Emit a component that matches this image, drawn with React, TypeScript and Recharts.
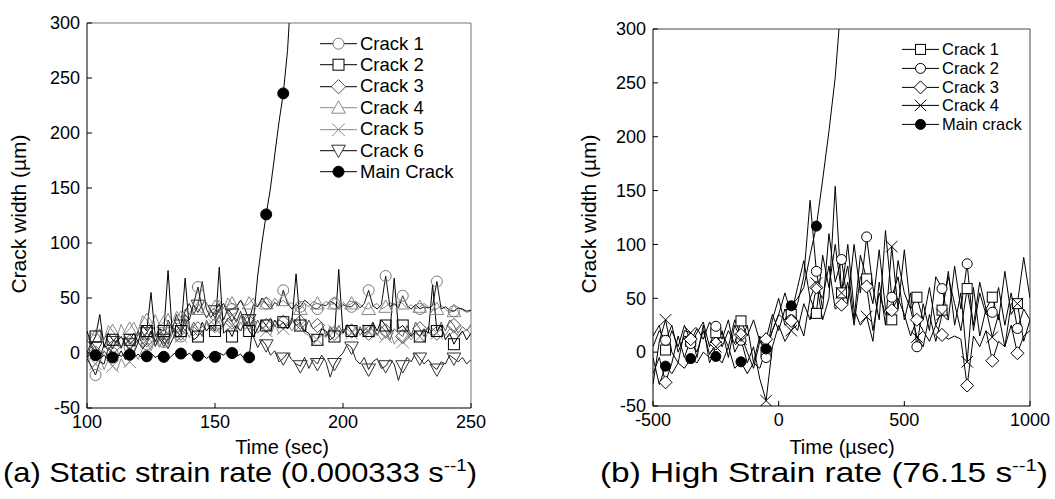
import React from "react";
import { ComposedChart, Line, XAxis, YAxis, ReferenceLine, Legend } from "recharts";

const FONT = "'Liberation Sans', Arial, sans-serif";

// (a) static test: one sample every 5/3 s starting at 100 s, marker on every 4th sample
const STATIC_START = 100;
const STATIC_STEP = 5 / 3;
const staticTicksX = [100, 150, 200, 250];
const ticksY = [-50, 0, 50, 100, 150, 200, 250, 300];

const staticCrack1 = [
  -5, -12, -20, -8, -10, 5, 0, -5, 2, -6, 5, 0, 10, 4, 8, 20,
  6, 15, 10, 4, 12, 20, 15, 35, 30, 45, 60, 40, 32, 38, 35, 40,
  45, 38, 40, 42, 48, 40, 30, 44, 42, 50, 45, 40, 46, 43, 57, 45,
  40, 44, 42, 48, 45, 41, 40, 44, 43, 47, 45, 40, 44, 42, 42, 46,
  41, 45, 57, 43, 40, 44, 70, 42, 45, 41, 52, 43, 40, 44, 40, 42,
  41, 43, 65, 40, 42, 39, 38, 41, 40, 38, 39,
];
const staticCrack2 = [
  20, 8, 15, 35, 5, 18, 12, 10, 15, 8, 12, 18, 10, 25, 20, 55,
  15, 22, 20, 75, 18, 25, 20, 68, 22, 12, 15, 28, 20, 25, 20, 78,
  18, 22, 15, 25, 20, 28, 20, 15, 22, 30, 25, 20, 30, 24, 28, 22,
  28, 72, 25, 20, 18, 10, 12, 22, 20, 12, 15, 76, 18, 25, 20, 15,
  22, 18, 20, 28, 20, 30, 25, 18, 68, 22, 25, 20, 15, 20, 15, 22,
  18, 62, 20, 25, 12, 18, 8, 15, 20, 12, 18,
];
const staticCrack3 = [
  -5, 8, 0, -8, 2, -4, 5, 12, 4, 15, 10, 6, 18, 8, 12, 20,
  10, 22, 15, 8, 25, 14, 18, 30, 20, 28, 22, 15, 30, 22, 25, 35,
  24, 32, 28, 22, 34, 25, 28, 20, 30, 22, 25, 32, 24, 30, 28, 22,
  32, 25, 28, 20, 30, 22, 25, 28, 15, 24, 18, 25, 18, 26, 20, 14,
  24, 15, 18, 26, 16, 24, 20, 12, 22, 18, 15, 25, 16, 28, 22, 15,
  24, 16, 18, 28, 20, 30, 25, 18, 24, 20, 26,
];
const staticCrack4 = [
  10, 18, 15, 22, 12, 25, 20, 15, 26, 18, 22, 28, 20, 34, 30, 24,
  35, 25, 28, 36, 28, 38, 32, 40, 35, 44, 40, 36, 46, 38, 42, 48,
  40, 50, 45, 42, 48, 43, 45, 50, 42, 47, 45, 43, 50, 45, 48, 44,
  46, 42, 40, 45, 42, 47, 45, 43, 47, 44, 45, 42, 46, 43, 45, 47,
  44, 41, 40, 43, 45, 40, 42, 46, 43, 47, 45, 41, 44, 40, 42, 45,
  42, 39, 40, 43, 40, 37, 38, 41, 39, 37, 38,
];
const staticCrack5 = [
  0, -14, -10, -4, -15, -6, -12, -16, -5, -12, -8, 0, -6, 4, 10, 2,
  12, 5, 15, 8, 18, 10, 15, 22, 14, 24, 20, 16, 28, 20, 25, 18,
  26, 30, 25, 20, 28, 22, 25, 30, 18, 24, 20, 16, 26, 18, 22, 28,
  20, 26, 25, 18, 16, 8, 12, 18, 14, 22, 20, 16, 22, 15, 18, 24,
  16, 22, 20, 14, 18, 12, 15, 20, 8, 14, 10, 16, 12, 18, 15, 10,
  20, 14, 18, 22, 16, 22, 20, 15, 18, 22, 16,
];
const staticCrack6 = [
  0, 10, 5, -5, 8, 2, 10, 15, 5, 14, 8, 12, 20, 12, 18, 25,
  10, 18, 12, 30, 22, 35, 25, 38, 45, 35, 43, 65, 40, 32, 38, 45,
  30, 40, 35, 28, 38, 25, 30, 15, 5, 12, 7, -2, 2, -8, -5, 0,
  -6, -10, -12, -4, -14, -6, -10, -2, -8, -22, -10, -4, 0, 8, 5, -6,
  -10, -4, -15, -8, -5, -14, -12, -6, -10, -25, -12, -4, -8, 0, -5, -10,
  -6, -12, -15, -8, -10, -2, -5, -8, -4, -10, -6,
];
const staticMain = [
  -4, 0, -2, -5, -2, -6, -4, -1, -3, 0, -1.5, -4, -1, -5, -3, 0,
  -4, -2, -3.5, -6, -2, 1, -0.5, -3, 0, -4, -2.5, -1, -5, -2, -3.5, 0,
  -2, 2, 0, -3, -1, -6, -4, 30, 70, 100, 126, 150, 180, 210, 236, 275,
  340,
];

// (b) high strain rate test: one sample every 25 µs starting at -500 µs
const DYN_START = -500;
const DYN_STEP = 25;
const dynTicksX = [-500, 0, 500, 1000];

const dynCrack1 = [
  15, 25, 2, 20, 5, 25, 10, 22, 12, 28, 18, 5, 20, 8, 29, 15,
  30, 10, 0, 20, 35, 55, 35, 60, 85, 50, 36, 90, 60, 100, 55, 80,
  30, 90, 68, 45, 95, 40, 30, 85, 55, 40, 51, 30, 60, 25, 39, 70,
  45, 20, 59, 25, 65, 40, 51, 30, 75, 35, 45, 88, 50,
];
const dynCrack2 = [
  5, 20, 11, 25, 0, 15, 8, 18, 28, 5, 24, 12, 30, 0, 11, 25,
  -10, 15, -5, 30, 50, 25, 30, 45, 70, 141, 75, 40, 110, 65, 86, 45,
  100, 55, 107, 60, 30, 113, 51, 70, 30, 55, 5, 45, 20, 70, 59, 30,
  80, 40, 82, 20, 55, 35, 37, 60, 25, 55, 22, 40, 30,
];
const dynCrack3 = [
  -20, -5, -28, -10, 15, -5, 12, 0, 20, -2, 8, 18, 5, 30, 16, 0,
  -15, 10, 12, 35, 20, 40, 29, 20, 45, 30, 60, 50, 80, 40, 44, 65,
  25, 70, 61, 20, 55, 35, 39, 50, 35, 15, 30, 20, 10, 25, 16, 12,
  15, 12, -31, 15, 5, 20, -8, 10, 5, 25, -1, 15, 20,
];
const dynCrack4 = [
  -30, 10, 30, 0, -10, 20, 18, -5, 25, -10, 5, 20, -5, 25, 12, -10,
  5, -25, -45, 5, 25, 10, 20, 30, 15, 50, 64, 30, 50, 154, 55, 100,
  40, 25, 33, 10, 65, 25, 98, 40, 95, 40, 14, 5, 35, 10, 35, 75,
  25, 55, -9, 60, 15, 40, 14, 35, 5, 45, 45, 10, 30,
];
const dynMain = [
  -5, -30, -13, -20, -10, -15, -6, -10, 0, -5, -4, -10, 5, -15, -9, -20,
  -10, -15, 3, 20, 35, 30, 43, 50, 60, 90, 117, 160, 205, 255, 330,
];

const toPoints = (vals: number[], start: number, step: number) =>
  vals.map((v, i) => ({ t: start + i * step, v }));

type Shape = "circle" | "square" | "diamond" | "triangle" | "down" | "cross" | "disc";

function Marker({ shape, cx, cy, r, stroke, fill }: { shape: Shape; cx: number; cy: number; r: number; stroke: string; fill: string }) {
  const common = { stroke, fill, strokeWidth: 1 };
  switch (shape) {
    case "circle":
      return <circle cx={cx} cy={cy} r={r} {...common} />;
    case "disc":
      return <circle cx={cx} cy={cy} r={r} fill={stroke} stroke={stroke} />;
    case "square":
      return <rect x={cx - r} y={cy - r} width={2 * r} height={2 * r} {...common} />;
    case "diamond": {
      const d = r * 1.3;
      return <polygon points={`${cx},${cy - d} ${cx + d},${cy} ${cx},${cy + d} ${cx - d},${cy}`} {...common} />;
    }
    case "triangle": {
      const d = r * 1.25;
      return <polygon points={`${cx},${cy - d} ${cx + d},${cy + d * 0.8} ${cx - d},${cy + d * 0.8}`} {...common} />;
    }
    case "down": {
      const d = r * 1.25;
      return <polygon points={`${cx},${cy + d} ${cx + d},${cy - d * 0.8} ${cx - d},${cy - d * 0.8}`} {...common} />;
    }
    case "cross": {
      const d = r * 1.15;
      return (
        <g stroke={stroke} strokeWidth={1}>
          <line x1={cx - d} y1={cy - d} x2={cx + d} y2={cy + d} />
          <line x1={cx - d} y1={cy + d} x2={cx + d} y2={cy - d} />
        </g>
      );
    }
  }
  return null;
}

type Series = { name: string; vals: number[]; shape: Shape; line: string; mark: string; maxT: number };

const staticSeries: Series[] = [
  { name: "Crack 1", vals: staticCrack1, shape: "circle", line: "#111", mark: "#777", maxT: 246 },
  { name: "Crack 2", vals: staticCrack2, shape: "square", line: "#000", mark: "#000", maxT: 246 },
  { name: "Crack 3", vals: staticCrack3, shape: "diamond", line: "#555", mark: "#555", maxT: 246 },
  { name: "Crack 4", vals: staticCrack4, shape: "triangle", line: "#888", mark: "#888", maxT: 246 },
  { name: "Crack 5", vals: staticCrack5, shape: "cross", line: "#888", mark: "#888", maxT: 246 },
  { name: "Crack 6", vals: staticCrack6, shape: "down", line: "#222", mark: "#333", maxT: 246 },
  { name: "Main Crack", vals: staticMain, shape: "disc", line: "#000", mark: "#000", maxT: 178 },
];
const staticDrawOrder = [3, 4, 2, 0, 5, 1, 6];

const dynSeries: Series[] = [
  { name: "Crack 1", vals: dynCrack1, shape: "square", line: "#000", mark: "#000", maxT: 960 },
  { name: "Crack 2", vals: dynCrack2, shape: "circle", line: "#000", mark: "#000", maxT: 960 },
  { name: "Crack 3", vals: dynCrack3, shape: "diamond", line: "#000", mark: "#000", maxT: 960 },
  { name: "Crack 4", vals: dynCrack4, shape: "cross", line: "#000", mark: "#000", maxT: 960 },
  { name: "Main crack", vals: dynMain, shape: "disc", line: "#000", mark: "#000", maxT: 160 },
];

function LegendBox({ items, fontSize, rowH, iconW, r }: { items: Series[]; fontSize: number; rowH: number; iconW: number; r: number }) {
  return (
    <div style={{ fontFamily: FONT, fontSize, color: "#000" }}>
      {items.map((s) => (
        <div key={s.name} style={{ display: "flex", alignItems: "center", height: rowH, whiteSpace: "nowrap" }}>
          <svg width={iconW} height={rowH} style={{ display: "block" }}>
            <line x1={0} x2={iconW} y1={rowH / 2} y2={rowH / 2} stroke={s.line === "#888" ? "#888" : "#000"} />
            <Marker shape={s.shape} cx={iconW / 2} cy={rowH / 2} r={r} stroke={s.mark} fill="#fff" />
          </svg>
          <span style={{ marginLeft: 3 }}>{s.name}</span>
        </div>
      ))}
    </div>
  );
}

function BottomTick(props: any) {
  const { x, y, payload, fs } = props;
  return (
    <g>
      <line x1={x} x2={x} y1={y} y2={y - 5} stroke="#000" />
      <text x={x} y={y + 5} dy="0.85em" textAnchor="middle" fontSize={fs} fontFamily={FONT} fill="#000">
        {payload.value}
      </text>
    </g>
  );
}

function LeftTick(props: any) {
  const { x, y, payload, fs } = props;
  return (
    <g>
      <line x1={x} x2={x + 5} y1={y} y2={y} stroke="#000" />
      <text x={x - 7} y={y} dy="0.35em" textAnchor="end" fontSize={fs} fontFamily={FONT} fill="#000">
        {payload.value}
      </text>
    </g>
  );
}

function Panel({ series, order, start, step, domainX, ticksX, width, margin, xHeight, legendPos, legendFont, legendRow, r, markFill, frame }: any) {
  return (
    <ComposedChart width={width} height={460} margin={margin}>
      <XAxis
        type="number"
        dataKey="t"
        domain={domainX}
        ticks={ticksX}
        interval={0}
        allowDataOverflow
        height={xHeight}
        tickSize={0}
        tickMargin={0}
        stroke="#000"
        tick={(p: any) => <BottomTick {...p} fs={18} />}
      />
      <YAxis
        type="number"
        domain={[-50, 300]}
        ticks={ticksY}
        interval={0}
        allowDataOverflow
        width={60}
        tickSize={0}
        tickMargin={0}
        stroke="#000"
        tick={(p: any) => <LeftTick {...p} fs={18} />}
      />
      <ReferenceLine y={300} stroke={frame} />
      <ReferenceLine x={domainX[1]} stroke={frame} />
      {order.map((idx: number) => {
        const s: Series = series[idx];
        return (
          <Line
            key={s.name}
            data={toPoints(s.vals, start, step)}
            dataKey="v"
            name={s.name}
            type="linear"
            stroke={s.line}
            strokeWidth={1}
            activeDot={false}
            isAnimationActive={false}
            dot={(p: any) => {
              const { cx, cy, index, payload } = p;
              if (index % 4 !== 2 || payload.t > s.maxT) return <g key={`${s.name}-${index}`} />;
              return (
                <g key={`${s.name}-${index}`}>
                  <Marker shape={s.shape} cx={cx} cy={cy} r={r} stroke={s.mark} fill={markFill} />
                </g>
              );
            }}
          />
        );
      })}
      <Legend
        layout="vertical"
        align="center"
        verticalAlign="middle"
        wrapperStyle={{ ...legendPos, width: 140 }}
        content={() => <LegendBox items={series} fontSize={legendFont} rowH={legendRow} iconW={37} r={r} />}
      />
    </ComposedChart>
  );
}

export default function App() {
  return (
    <div style={{ position: "absolute", left: 0, top: 0, width: 1055, height: 499, background: "#fff", overflow: "hidden" }}>
      <div style={{ position: "absolute", left: 0, top: 0 }}>
        <Panel
          series={staticSeries}
          order={staticDrawOrder}
          start={STATIC_START}
          step={STATIC_STEP}
          domainX={[100, 250]}
          ticksX={staticTicksX}
          width={500}
          margin={{ top: 23, right: 29, left: 27, bottom: 0 }}
          xHeight={52}
          legendPos={{ left: 320, top: 33 }}
          legendFont={18.5}
          legendRow={21.4}
          r={5.5}
          markFill="none"
          frame="#777"
        />
      </div>
      <div style={{ position: "absolute", left: 560, top: 0 }}>
        <Panel
          series={dynSeries}
          order={[0, 1, 2, 3, 4]}
          start={DYN_START}
          step={DYN_STEP}
          domainX={[-500, 1000]}
          ticksX={dynTicksX}
          width={495}
          margin={{ top: 29, right: 25, left: 33, bottom: 0 }}
          xHeight={54}
          legendPos={{ left: 342, top: 40 }}
          legendFont={16.5}
          legendRow={18.8}
          r={5}
          markFill="#fff"
          frame="#444"
        />
      </div>
      <svg width={1055} height={499} style={{ position: "absolute", left: 0, top: 0, pointerEvents: "none" }} fontFamily={FONT}>
        <text transform="translate(26,214) rotate(-90)" textAnchor="middle" fontSize={21}>
          Crack width (µm)
        </text>
        <text transform="translate(596,214) rotate(-90)" textAnchor="middle" fontSize={21}>
          Crack width (µm)
        </text>
        <text x={282} y={454} textAnchor="middle" fontSize={20}>
          Time (sec)
        </text>
        <text x={842} y={454} textAnchor="middle" fontSize={20}>
          Time (µsec)
        </text>
        <text x={3} y={482} fontSize={28} textLength={474} lengthAdjust="spacingAndGlyphs">
          (a) Static strain rate (0.000333 s<tspan fontSize={17} dy={-11}>--1</tspan>
          <tspan dy={11}>)</tspan>
        </text>
        <text x={600} y={482} fontSize={28} textLength={448} lengthAdjust="spacingAndGlyphs">
          (b) High Strain rate (76.15 s<tspan fontSize={17} dy={-11}>--1</tspan>
          <tspan dy={11}>)</tspan>
        </text>
      </svg>
    </div>
  );
}
